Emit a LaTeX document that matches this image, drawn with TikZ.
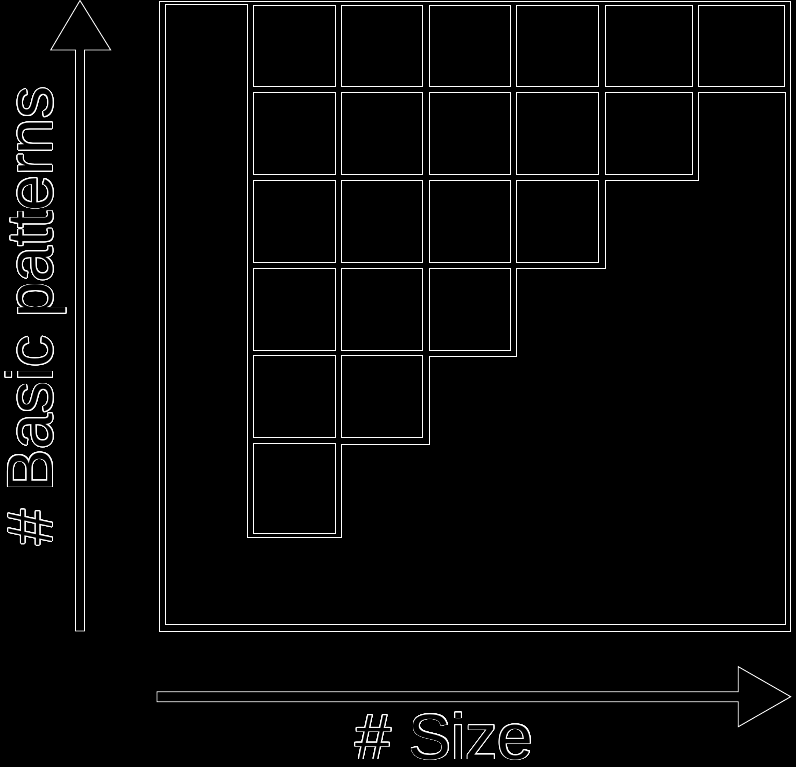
\documentclass[tikz,border=0pt]{standalone}
\usepackage{fontspec}
\usepackage{contour}
\usepackage{tikz}
\usetikzlibrary{positioning}
\newfontfamily\labelfont{Liberation Sans}
\contourlength{0.55pt}
\contournumber{32}
\definecolor{edgewhite}{RGB}{255, 255, 255}
\definecolor{bgblack}{RGB}{0, 0, 0}

\begin{document}
\begin{tikzpicture}[
    x=0.25mm, y=-0.25mm,
    edge/.style={draw=edgewhite, line width=0.6pt, fill=bgblack},
    cellline/.style={draw=edgewhite, line width=0.6pt},
    axislabel/.style={text=bgblack, inner sep=0pt, anchor=base,
                      font=\labelfont\fontsize{45.5}{50}\selectfont}
]
    \fill[bgblack] (0,0) rectangle (796,767);
    \useasboundingbox (0,0) rectangle (796,767);

    % frame and staircase region
    \draw[edge] (159,1.3) rectangle (790.7,631);
    \draw[cellline] (165,624.5) -- (165,4.7) -- (247,4.7) -- (247,537.3)
        -- (341.7,537.3) -- (341.7,444.3) -- (429,444.3) -- (429,356.7)
        -- (516.3,356.7) -- (516.3,268.3) -- (605,268.3) -- (605,180)
        -- (698.5,180) -- (698.5,92.3) -- (785.5,92.3) -- (785.5,624.5) -- cycle;

    % cells
    \foreach \top/\bot [count=\rowi] in {5.3/86.7, 92.3/174.3, 180.3/262.3,
                                         268.3/350, 355/437.7, 443/533}
      \foreach \lft/\rgt [count=\coli] in {253.3/335.7, 341.3/422.7, 429.3/510.7,
                                           516.7/598.7, 605.3/692, 698.7/784.7}
      {
        \pgfmathtruncatemacro\keep{\rowi+\coli<8}
        \ifnum\keep=1
          \draw[cellline] (\lft,\top) rectangle (\rgt,\bot);
        \fi
      }

    % axes
    \draw[edge] (75.5,631) -- (75.5,50) -- (50.7,50) -- (80,0.5)
        -- (110.7,50) -- (84.5,50) -- (84.5,631) -- cycle;
    \draw[edge] (157,691.7) -- (738.3,691.7) -- (738.3,666.7) -- (790.7,696.7)
        -- (738.3,726.7) -- (738.3,701.7) -- (157,701.7) -- cycle;

    \node[axislabel, rotate=90] (patterns) at (52.5,316) {\contour{edgewhite}{\# Basic patterns}};
    \node[axislabel] (size) at (444.5,759) {\contour{edgewhite}{\# Size}};
\end{tikzpicture}
\end{document}
